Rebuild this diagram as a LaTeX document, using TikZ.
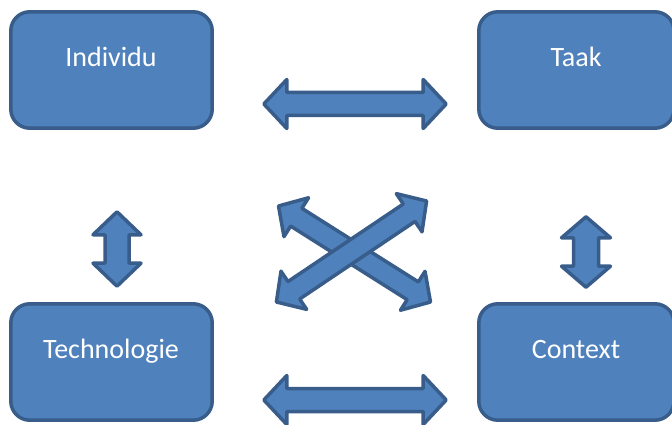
\documentclass[tikz,border=0pt]{standalone}
\usepackage{fontspec}
\setmainfont{Carlito}
\definecolor{boxfill}{HTML}{4F81BD}
\definecolor{boxline}{HTML}{385D8A}
\tikzset{
  box/.style={fill=boxfill, draw=boxline, line width=3.5pt, rounded corners=19pt},
  blockarrow/.style={fill=boxfill, draw=boxline, line width=3.5pt, line join=round},
  label/.style={text=white, anchor=base, inner sep=0pt, font=\fontsize{28}{33}\selectfont}
}
% x1 y1 x2 y2 shafthalf headhalf headlength
\newcommand\dblarrow[7]{%
  \pgfmathsetmacro\arrang{atan2(#2-#4,#3-#1)}%
  \pgfmathsetmacro\arrlen{veclen(#3-#1,#4-#2)}%
  \pgfmathsetmacro\arrback{\arrlen-#7}%
  \begin{scope}[shift={(#1,#2)}, rotate=\arrang, x=1pt, y=1pt]
    \path[blockarrow] (0,0) -- (#7,#6) -- (#7,#5) -- (\arrback,#5) -- (\arrback,#6)
      -- (\arrlen,0) -- (\arrback,-#6) -- (\arrback,-#5) -- (#7,-#5) -- (#7,-#6) -- cycle;
  \end{scope}}
\begin{document}
\begin{tikzpicture}[x=1pt, y=-1pt]
\useasboundingbox (0,0) rectangle (672,425);
% boxes
\path[box] (10.8,11.8) rectangle (212.2,128.2);
\path[box] (478.8,11.8) rectangle (674,128.2);
\path[box] (10.8,303.8) rectangle (212.2,420.2);
\path[box] (478.8,303.8) rectangle (674,420.2);
\node[label] (individu) at (111,66.5) {Individu};
\node[label] (taak) at (576,66.5) {Taak};
\node[label] (technologie) at (111,358) {Technologie};
\node[label] (context) at (576,358) {Context};
% arrows
\dblarrow{263.8}{104}{446.2}{104}{11.5}{24.5}{23}
\dblarrow{263.8}{400}{446.2}{400}{11.5}{24.5}{23}
\dblarrow{117}{211.8}{117}{286.2}{12}{24}{23}
\dblarrow{586}{216.8}{586}{287.2}{12.5}{24.5}{21}
\dblarrow{278.5}{206}{430.5}{302}{10.5}{23}{21}
\dblarrow{276.4}{302}{426.6}{201}{10.5}{23}{21}
\end{tikzpicture}
\end{document}
